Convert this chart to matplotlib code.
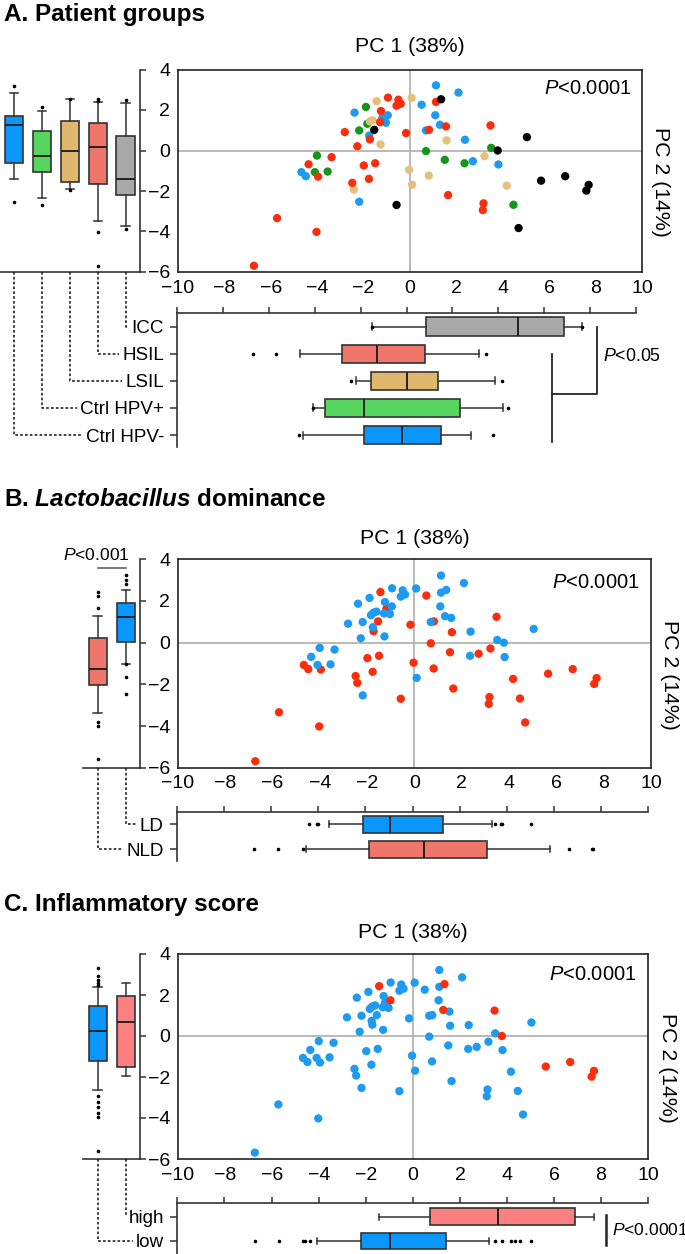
import matplotlib
matplotlib.use("Agg")
import matplotlib.pyplot as plt

plt.rcParams['font.family'] = ['Liberation Sans', 'DejaVu Sans']
plt.rcParams['mathtext.fontset'] = 'custom'
plt.rcParams['mathtext.rm'] = 'Liberation Sans'
plt.rcParams['mathtext.it'] = 'Liberation Sans:italic'
plt.rcParams['mathtext.bf'] = 'Liberation Sans:italic:bold'

W, H = 685, 1254

# ---------------- sample scores (PC1, PC2) ----------------
# group: 0 Ctrl HPV-, 1 Ctrl HPV+, 2 LSIL, 3 HSIL, 4 ICC
pc1 = [1.12, 2.09, -2.39, 0.50, 1.09, 1.29, 0.69, 2.37, 2.71, 3.81, -1.19, -0.96, -1.04, -1.76, -4.68, -4.49, -2.19,
       -1.90, -1.84, -2.19, -4.01, -4.10, -3.55, 0.69, 1.50, 2.35, 3.50, 4.46,
       -1.44, 0.07, -1.61, -1.73, -1.27, -2.42, -0.04, 0.09, 0.81, 1.58, 3.21, 4.17,
       -0.95, -0.50, -0.40, -0.58, 1.12, -1.25, -1.29, -2.81, -0.17, 0.82, -1.73, -2.27, 1.55, 3.47,
       -3.38, -4.37, -3.96, -1.99, -1.50, -2.49, -1.77, 1.64, 3.17, 3.14, -5.73, -4.03, -6.73,
       1.34, -1.54, 5.04, 3.78, 5.65, 6.69, 7.70, 7.60, -0.58, 4.68]
pc2 = [3.22, 2.86, 1.87, 2.26, 1.74, 1.27, 0.99, 0.53, -0.53, -0.69, 1.62, 1.74, 1.37, 0.74, -1.07, -1.27, -2.53,
       2.15, 1.32, 0.99, -0.25, -1.07, -1.04, -0.03, -0.46, -0.63, 0.13, -2.68,
       2.43, 2.60, 1.49, 1.44, 0.30, -1.93, -0.96, -1.69, -1.24, 0.50, -0.28, -1.74,
       2.61, 2.51, 2.31, 2.21, 2.40, 1.95, 1.40, 0.91, 0.86, 1.02, 0.55, 0.21, 1.19, 1.24,
       -0.33, -0.68, -1.29, -0.74, -0.63, -1.60, -1.40, -2.20, -2.61, -2.94, -3.34, -4.02, -5.69,
       2.53, 1.02, 0.66, 0.00, -1.49, -1.27, -1.70, -1.98, -2.69, -3.83]
group = [0] * 17 + [1] * 11 + [2] * 12 + [3] * 27 + [4] * 10
# 1 = Lactobacillus dominated (LD), 0 = NLD
lacto = [1, 1, 1, 0, 1, 1, 1, 1, 0, 1, 0, 1, 1, 1, 0, 0, 1,
         1, 1, 1, 1, 1, 1, 0, 0, 1, 1, 0,
         0, 1, 1, 1, 1, 0, 0, 1, 0, 0, 0, 0,
         1, 1, 1, 1, 1, 1, 1, 1, 0, 0, 0, 1, 1, 0,
         1, 1, 0, 0, 0, 0, 0, 0, 0, 0, 0, 0, 0,
         1, 0, 1, 1, 0, 0, 0, 0, 0, 0]
# 1 = high inflammatory score, 0 = low
inflam = [0, 0, 0, 0, 0, 1, 0, 0, 0, 0, 0, 1, 0, 0, 0, 0, 0,
          0, 0, 0, 0, 0, 0, 0, 0, 0, 0, 0,
          1, 0, 0, 0, 0, 0, 0, 0, 0, 0, 0, 0,
          0, 0, 0, 0, 0, 0, 0, 0, 0, 0, 0, 0, 0, 1,
          0, 0, 0, 0, 0, 0, 0, 0, 0, 0, 0, 0, 0,
          1, 0, 0, 1, 1, 1, 1, 1, 0, 0]

group_names = ['Ctrl HPV-', 'Ctrl HPV+', 'LSIL', 'HSIL', 'ICC']
lacto_names = ['NLD', 'LD']
inflam_names = ['low', 'high']

# ---------------- box plot summaries ----------------
# panel A, PC2 (left) per group
a_pc2_lo = [-1.40, -2.36, -1.92, -3.46, -3.74]
a_pc2_q1 = [-0.60, -1.07, -1.57, -1.63, -2.18]
a_pc2_med = [1.28, -0.28, -0.04, 0.18, -1.42]
a_pc2_q3 = [1.71, 0.97, 1.45, 1.36, 0.72]
a_pc2_hi = [2.85, 1.96, 2.52, 2.38, 2.35]
a_pc2_fl = [[3.19, -2.54], [2.14, -2.67], [2.52, -1.96], [2.43, 2.56, -4.02, -5.69], [2.48, -3.88]]
# panel A, PC1 (bottom) per group
a_pc1_lo = [-4.53, -4.07, -2.22, -4.65, -1.52]
a_pc1_q1 = [-1.85, -3.56, -1.55, -2.80, 0.85]
a_pc1_med = [-0.21, -1.84, 0.02, -1.27, 4.85]
a_pc1_q3 = [1.49, 2.33, 1.39, 0.81, 6.89]
a_pc1_hi = [2.80, 4.23, 3.86, 3.16, 7.67]
a_pc1_fl = [[-4.68, 3.76], [-4.07, 4.41], [-2.42, 4.15], [-6.71, -5.71, 3.45], [-1.52, 7.67]]
# panel B (NLD, LD)
b_pc2_lo = [-3.39, -1.02]
b_pc2_q1 = [-2.03, 0.05]
b_pc2_med = [-1.25, 1.22]
b_pc2_q3 = [0.24, 1.92]
b_pc2_hi = [1.30, 2.53]
b_pc2_fl = [[2.45, 2.24, 1.65, -3.79, -3.98, -5.60], [3.25, 3.01, 2.80, -1.04, -1.63, -2.46]]
b_pc1_lo = [-4.52, -3.54]
b_pc1_q1 = [-1.86, -2.08]
b_pc1_med = [0.50, -0.94]
b_pc1_q3 = [3.17, 1.28]
b_pc1_hi = [5.83, 3.39]
b_pc1_fl = [[-6.71, -5.70, -4.66, 6.64, 7.60, 7.67], [-4.37, -4.06, -4.02, 3.50, 3.74, 3.78, 5.01]]
# panel C (low, high)
c_pc2_lo = [-2.62, -1.93]
c_pc2_q1 = [-1.21, -1.52]
c_pc2_med = [0.22, 0.66]
c_pc2_q3 = [1.47, 1.95]
c_pc2_hi = [2.38, 2.57]
c_pc2_fl = [[3.30, 2.93, 2.73, 2.57, 2.49, -2.91, -3.24, -3.48, -3.76, -3.95, -5.63], []]
c_pc1_lo = [-4.07, -1.42]
c_pc1_q1 = [-2.18, 0.75]
c_pc1_med = [-0.95, 3.61]
c_pc1_q3 = [1.43, 6.88]
c_pc1_hi = [3.23, 7.69]
c_pc1_fl = [[-6.68, -5.69, -4.66, -4.56, -4.35, 3.51, 3.79, 4.18, 4.36, 4.54, 5.00], []]

# colours
pt_group = ['#1e9bf0', '#13961a', '#e5c07c', '#fa2d0c', '#000000']
box_group = ['#0a97fb', '#55d45e', '#dfb86d', '#ef766a', '#a9a9a9']
pt_blue, pt_red = '#1e9bf0', '#fa2d0c'
box_blue, box_red, box_pink = '#0a97fb', '#ef766a', '#fd8080'
EDGE = '#333333'

fig = plt.figure(figsize=(W / 100, H / 100), dpi=100)


def px_axes(left, top, right, bottom):
    return fig.add_axes([left / W, 1 - bottom / H, (right - left) / W, (bottom - top) / H])


def stats(lo, q1, med, q3, hi, fl):
    return [dict(whislo=a, q1=b, med=c, q3=d, whishi=e, fliers=f)
            for a, b, c, d, e, f in zip(lo, q1, med, q3, hi, fl)]


def draw_box(ax, st, colors, pos, width, cap, orient):
    b = ax.bxp(st, positions=pos, widths=width, capwidths=cap, patch_artist=True,
               orientation=orient,
               boxprops=dict(edgecolor=EDGE, linewidth=1.2),
               medianprops=dict(color='#222222', linewidth=1.4),
               whiskerprops=dict(color=EDGE, linewidth=1.1),
               capprops=dict(color=EDGE, linewidth=1.1),
               flierprops=dict(marker='o', markersize=2.6, markerfacecolor='black',
                               markeredgecolor='none'))
    for patch, c in zip(b['boxes'], colors):
        patch.set_facecolor(c)


def scatter_axes(box, colors, order):
    ax = px_axes(*box)
    ax.axhline(0, color='#b4b4b4', lw=1.3, zorder=0)
    ax.axvline(0, color='#b4b4b4', lw=1.3, zorder=0)
    xs = [pc1[i] for i in order]
    ys = [pc2[i] for i in order]
    cs = [colors[i] for i in order]
    ax.scatter(xs, ys, c=cs, s=36, linewidths=0, zorder=3)
    ax.set_xlim(-10, 10)
    ax.set_ylim(-6, 4)
    ax.set_xticks(range(-10, 11, 2))
    ax.set_yticks(range(-6, 5, 2))
    ax.tick_params(length=0, labelsize=14)
    ax.tick_params(axis='y', pad=5.5)
    ax.tick_params(axis='x', pad=5.5)
    for s in ax.spines.values():
        s.set_linewidth(1.2)
        s.set_color('#222222')
    return ax


def left_axes(box, st, colors, xlim):
    ax = px_axes(*box)
    draw_box(ax, st, colors, list(range(1, len(st) + 1)), 0.656, 0.3, 'vertical')
    ax.set_xlim(*xlim)
    ax.set_ylim(-6, 4)
    ax.patch.set_alpha(0)
    ax.spines['left'].set_visible(False)
    ax.spines['top'].set_visible(False)
    for s in ('right', 'bottom'):
        ax.spines[s].set_linewidth(1.2)
        ax.spines[s].set_color('#333333')
    ax.yaxis.tick_right()
    ax.set_yticks(range(-6, 5, 2))
    ax.tick_params(axis='y', length=4, width=1.1, labelright=False, color='#333333')
    ax.set_xticks([])
    return ax


def bottom_axes(box, st, colors, names, width, cap, ylim):
    ax = px_axes(*box)
    pos = list(range(len(st)))
    draw_box(ax, st, colors, pos, width, cap, 'horizontal')
    ax.set_xlim(-10, 10)
    ax.set_ylim(*ylim)
    ax.patch.set_alpha(0)
    ax.spines['right'].set_visible(False)
    ax.spines['bottom'].set_visible(False)
    for s in ('left', 'top'):
        ax.spines[s].set_linewidth(1.2)
        ax.spines[s].set_color('#333333')
    ax.xaxis.tick_top()
    ax.set_xticks(range(-10, 11, 2))
    ax.tick_params(axis='x', length=4.3, width=1.1, labeltop=False, color='#333333')
    ax.set_yticks(pos)
    ax.set_yticklabels(names)
    ax.tick_params(axis='y', length=5, width=1.1, labelsize=13.6, pad=4.5, color='#333333')
    return ax


# ---------------- panel A ----------------
order_a = list(range(len(pc1)))
sc_a = scatter_axes((178, 69.5, 642, 272), [pt_group[g] for g in group], order_a)
lb_a = left_axes((0, 69.5, 140, 272),
                 stats(a_pc2_lo, a_pc2_q1, a_pc2_med, a_pc2_q3, a_pc2_hi, a_pc2_fl),
                 box_group, (0.498, 5.516))
bb_a = bottom_axes((177.3, 313.3, 635.7, 446.7),
                   stats(a_pc1_lo, a_pc1_q1, a_pc1_med, a_pc1_q3, a_pc1_hi, a_pc1_fl),
                   box_group, group_names, 0.675, 0.26, (-0.43, 4.49))
br = dict(color='#222222', lw=1.3, clip_on=False)
bb_a.plot([6.34, 6.34], [3.0, -0.25], **br)
bb_a.plot([6.34, 8.30, 8.30], [1.5, 1.5, 4.0], **br)
bb_a.text(8.58, 2.89, '$P$<0.05', fontsize=12.8, ha='left', va='center', clip_on=False)

# ---------------- panel B ----------------
order_b = [i for i in range(len(pc1)) if lacto[i] == 0] + [i for i in range(len(pc1)) if lacto[i] == 1]
sc_b = scatter_axes((178, 559.3, 651, 767.7), [pt_blue if v else pt_red for v in lacto], order_b)
lb_b = left_axes((83.3, 559.3, 140, 767.7),
                 stats(b_pc2_lo, b_pc2_q1, b_pc2_med, b_pc2_q3, b_pc2_hi, b_pc2_fl),
                 [box_red, box_blue], (0.486, 2.51))
lb_b.plot([1, 2], [3.57, 3.57], color='#555555', lw=1.1, clip_on=False)
lb_b.text(0.94, 4.2, '$P$<0.001', fontsize=12.6, ha='center', va='center', clip_on=False)
bb_b = bottom_axes((176.7, 811.7, 648.3, 861),
                   stats(b_pc1_lo, b_pc1_q1, b_pc1_med, b_pc1_q3, b_pc1_hi, b_pc1_fl),
                   [box_red, box_blue], lacto_names, 0.668, 0.24, (-0.47, 1.505))

# ---------------- panel C ----------------
order_c = [i for i in range(len(pc1)) if inflam[i] == 0] + [i for i in range(len(pc1)) if inflam[i] == 1]
sc_c = scatter_axes((178, 954, 648, 1159), [pt_red if v else pt_blue for v in inflam], order_c)
lb_c = left_axes((83.3, 954, 140, 1159),
                 stats(c_pc2_lo, c_pc2_q1, c_pc2_med, c_pc2_q3, c_pc2_hi, c_pc2_fl),
                 [box_blue, box_pink], (0.486, 2.51))
bb_c = bottom_axes((177.3, 1203.3, 648.3, 1254),
                   stats(c_pc1_lo, c_pc1_q1, c_pc1_med, c_pc1_q3, c_pc1_hi, c_pc1_fl),
                   [box_blue, box_pink], inflam_names, 0.687, 0.24, (-0.535, 1.55))
bb_c.plot([8.19, 8.19], [1.07, -0.16], color='#222222', lw=1.8, clip_on=False)
bb_c.text(8.45, 0.45, '$P$<0.0001', fontsize=12.6, ha='left', va='center', clip_on=False)

# ---------------- overlay: titles, labels, connectors ----------------
ov = fig.add_axes([0, 0, 1, 1])
ov.set_xlim(0, W)
ov.set_ylim(0, H)
ov.axis('off')
ov.patch.set_alpha(0)


def top(y):
    return H - y


ov.text(4, top(14), 'A. Patient groups', fontsize=17.5, fontweight='bold', va='center', ha='left')
ov.text(4, top(500), r'B. $\mathbf{Lactobacillus}$ dominance', fontsize=17.5, fontweight='bold',
        va='center', ha='left')
ov.text(4, top(905), 'C. Inflammatory score', fontsize=17.5, fontweight='bold', va='center', ha='left')

for sc, ty, py, px in ((sc_a, 47, 88, 632), (sc_b, 538, 583, 640), (sc_c, 933, 975, 637)):
    bb = sc.get_position()
    cx = (bb.x0 + bb.x1) / 2 * W
    cy = (bb.y0 + bb.y1) / 2 * H
    ov.text(cx, top(ty), 'PC 1 (38%)', fontsize=15.3, ha='center', va='center')
    ov.text(bb.x1 * W + 19, cy - 11, 'PC 2 (14%)', fontsize=15.3, rotation=270,
            ha='center', va='center')
    ov.text(px, top(py), '$P$<0.0001', fontsize=14.5, ha='right', va='center')

fig.canvas.draw()
dot = dict(color='#222222', lw=1.2, linestyle=(0, (1.6, 1.3)))


def connect(lb, bb, n):
    labels = bb.get_yticklabels()
    ybase = lb.transAxes.transform((0, 0))[1]
    for i in range(n):
        x0 = lb.transData.transform((i + 1, 0))[0]
        yrow = bb.transData.transform((0, i))[1]
        xend = labels[i].get_window_extent().x0 - 3
        ov.plot([x0, x0, max(xend, x0)], [ybase, yrow, yrow], **dot)


connect(lb_a, bb_a, 5)
connect(lb_b, bb_b, 2)
connect(lb_c, bb_c, 2)

fig.savefig('out.png', dpi=100)
